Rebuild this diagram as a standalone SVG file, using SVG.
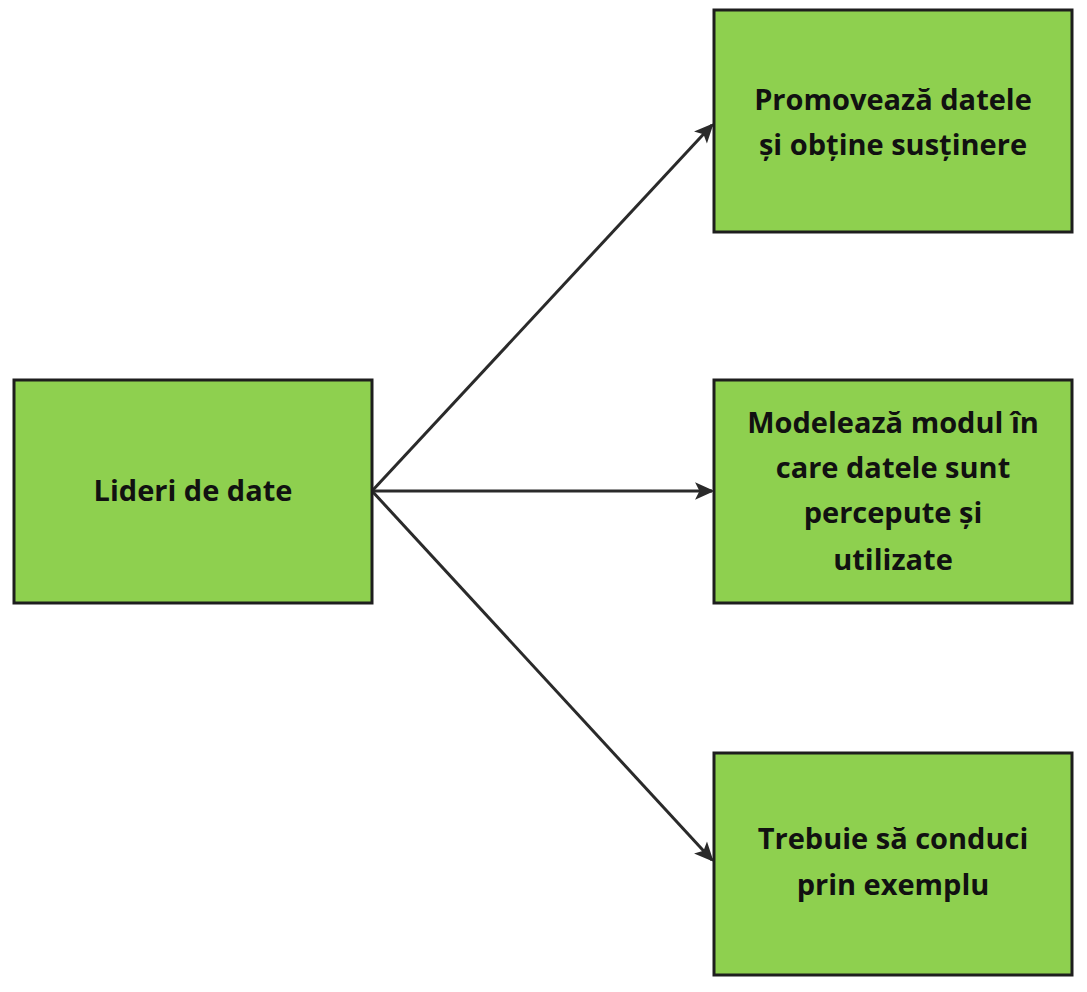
<svg xmlns="http://www.w3.org/2000/svg" width="1087" height="992" viewBox="0 0 1087 992">
<style>
.box{fill:#8ed04f;stroke:#1e1e1e;stroke-width:3}
.t{font-family:"Open Sans",sans-serif;font-weight:bold;font-size:29px;fill:#111;text-anchor:middle}
.c{stroke:#2a2a2a;stroke-width:3;fill:none;marker-end:url(#a)}
</style>
<defs><marker id="a" viewBox="0 0 20 20" refX="18" refY="10" markerWidth="11" markerHeight="11" markerUnits="userSpaceOnUse" orient="auto" style="overflow:visible"><path d="M0,0 L22,10 L0,20 L5,10 Z" fill="#2a2a2a" transform="scale(1.6) translate(-8,-3.75)"/></marker></defs>
<rect width="1087" height="992" fill="#fff"/>
<g id="connectors">
<line class="c" x1="372" y1="491" x2="712" y2="125"/>
<line class="c" x1="372" y1="491" x2="712" y2="491"/>
<line class="c" x1="372" y1="491" x2="712" y2="860"/>
</g>
<g id="n0"><rect class="box" x="14" y="380" width="358" height="223"/><text class="t" x="193" y="501">Lideri de date</text></g>
<g id="n1"><rect class="box" x="714" y="10" width="358" height="222"/><text class="t" x="893" y="110">Promovează datele</text><text class="t" x="893" y="155">și obține susținere</text></g>
<g id="n2"><rect class="box" x="714" y="380" width="358" height="223"/><text class="t" x="893" y="433">Modelează modul în</text><text class="t" x="893" y="478">care datele sunt</text><text class="t" x="893" y="523">percepute și</text><text class="t" x="893" y="570">utilizate</text></g>
<g id="n3"><rect class="box" x="714" y="753" width="358" height="222"/><text class="t" x="893" y="849">Trebuie să conduci</text><text class="t" x="893" y="895">prin exemplu</text></g>
</svg>
